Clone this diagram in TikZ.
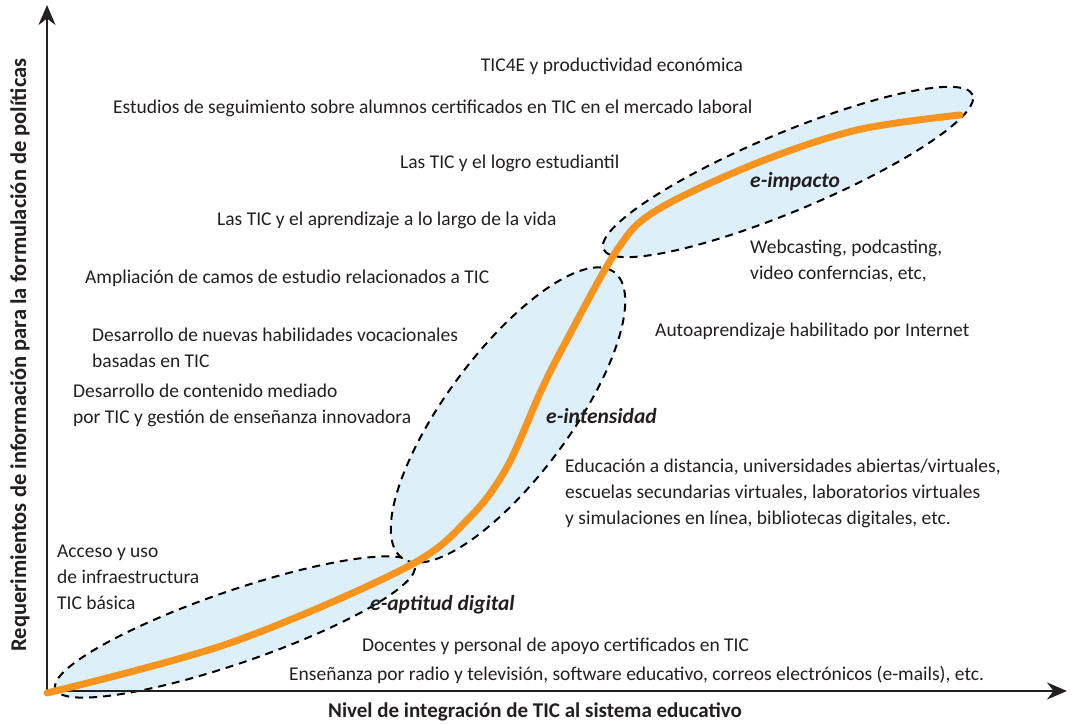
\documentclass[tikz,border=0pt]{standalone}
\usepackage{fontspec}
\setmainfont{Carlito}
\usetikzlibrary{arrows.meta,positioning}

\definecolor{txtgray}{HTML}{231F20}
\definecolor{curveorange}{HTML}{F7941D}
\definecolor{zonefill}{HTML}{DDF0FA}

\tikzset{
  axis/.style={line width=2.4pt,txtgray,-{Stealth[length=20pt,width=17pt]}},
  zone/.style={fill=zonefill,draw=black,line width=2pt,dash pattern=on 8pt off 6pt},
  lbl/.style={anchor=west,inner sep=0pt,align=left,text=txtgray,font=\fontsize{19.5}{26}\selectfont},
  stage/.style={lbl,font=\fontsize{21.5}{26}\selectfont\bfseries\itshape},
  axislbl/.style={inner sep=0pt,text=txtgray,font=\fontsize{21}{24}\selectfont\bfseries}
}

\begin{document}
\begin{tikzpicture}[x=1pt,y=1pt]
  \useasboundingbox (0,0) rectangle (1073,723);
% Stage zones
  \draw[zone] (235,96) ellipse[x radius=190,y radius=36,rotate=19];
  \draw[zone] (508,308) ellipse[x radius=178,y radius=62,rotate=53.4];
  \draw[zone] (788,551) ellipse[x radius=200,y radius=39,rotate=22.7];
% Axes
  \coordinate (orig) at (47,32);
  \coordinate (ytop) at (47,718);
  \coordinate (xend) at (1067,32);
  \draw[axis] (orig) -- (ytop);
  \draw[axis] (orig) -- (xend);
  \node[axislbl,font=\fontsize{22.5}{24}\selectfont\bfseries,rotate=90] (ylabel) at (20,368) {Requerimientos de información para la formulación de políticas};
  \node[axislbl] (xlabel) at (535,11) {Nivel de integración de TIC al sistema educativo};
% Integration curve
  \draw[curveorange,line width=7pt,line cap=round] plot[smooth,tension=0.55] coordinates
    {(47,30) (230,80) (407,156) (470,206) (507,256) (540,330)
     (563,376) (617,473) (657,513) (757,560) (857,593) (960,608)};
% Stage names
  \node[stage] (aptitud) at (370,118) {e-aptitud digital};
  \node[stage] (intens) at (546,307) {e-intensidad};
  \node[stage] (impacto) at (750,541) {e-impacto};
% Policy requirements (left/top)
  \node[lbl,anchor=center] (tic4e) at (612,657) {TIC4E y productividad económica};
  \node[lbl] (estudios) at (113,615) {Estudios de seguimiento sobre alumnos certificados en TIC en el mercado laboral};
  \node[lbl] (logro) at (400,560) {Las TIC y el logro estudiantil};
  \node[lbl] (vida) at (217,503) {Las TIC y el aprendizaje a lo largo de la vida};
  \node[lbl] (ampl) at (85,445) {Ampliación de camos de estudio relacionados a TIC};
  \node[lbl] (habil) at (92,375.5) {Desarrollo de nuevas habilidades vocacionales\\basadas en TIC};
  \node[lbl] (conten) at (73,317.5) {Desarrollo de contenido mediado\\por TIC y gestión de enseñanza innovadora};
  \node[lbl] (acceso) at (57,146) {Acceso y uso\\de infraestructura\\TIC básica};
% Technologies (right/bottom)
  \node[lbl] (webcast) at (750,462) {Webcasting, podcasting,\\video conferncias, etc,};
  \node[lbl] (autoapr) at (655,392) {Autoaprendizaje habilitado por Internet};
  \node[lbl] (distancia) at (565,230) {Educación a distancia, universidades abiertas/virtuales,\\escuelas secundarias virtuales, laboratorios virtuales\\y simulaciones en línea, bibliotecas digitales, etc.};
  \node[lbl] (docentes) at (362,77) {Docentes y personal de apoyo certificados en TIC};
  \node[lbl] (radio) at (289,48) {Enseñanza por radio y televisión, software educativo, correos electrónicos (e-mails), etc.};
\end{tikzpicture}
\end{document}
